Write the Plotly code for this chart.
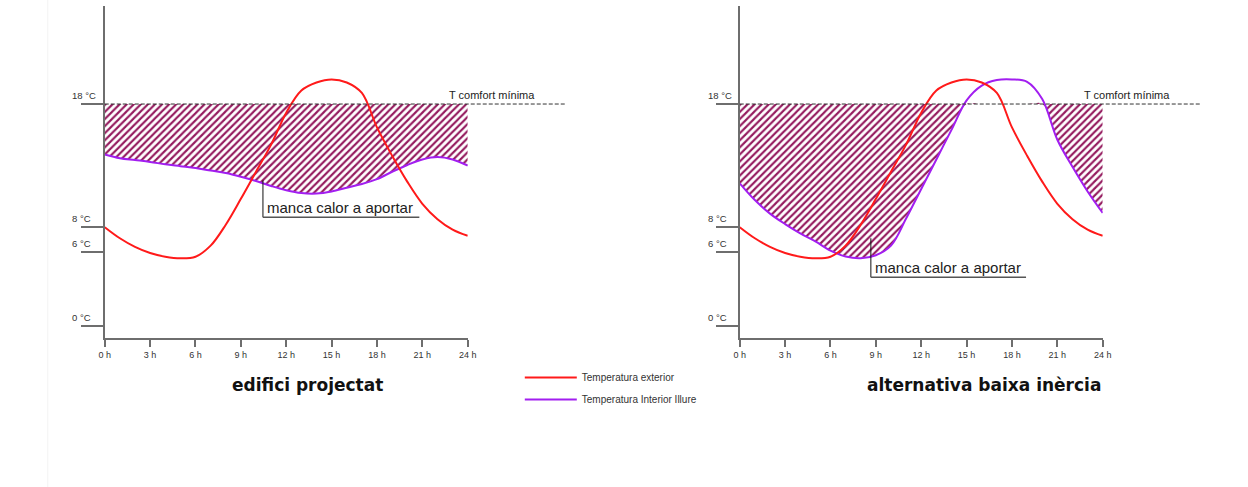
import plotly.graph_objects as go

# ---------------- data ----------------
hours = list(range(0, 25))
tick_hours = [0, 3, 6, 9, 12, 15, 18, 21, 24]
tick_hour_labels = [f"{h} h" for h in tick_hours]
temp_ticks = [0, 6, 8, 18]
temp_tick_labels = ["0 °C", "6 °C", "8 °C", "18 °C"]
t_comfort = 18

t_exterior = [8.0, 7.1, 6.4, 5.9, 5.6, 5.47, 5.6, 6.5, 8.2, 10.3, 12.5, 14.7, 17.3,
              19.1, 19.75, 20.0, 19.75, 18.9, 16.1, 13.8, 11.7, 9.9, 8.65, 7.8, 7.3]
t_interior_projectat = [13.9, 13.6, 13.45, 13.3, 13.1, 12.95, 12.8, 12.6, 12.4, 12.1,
                        11.75, 11.35, 11.0, 10.77, 10.73, 10.9, 11.2, 11.5, 11.9, 12.5,
                        13.05, 13.5, 13.7, 13.5, 13.0]
t_interior_baixa = [11.56, 10.2, 9.1, 8.25, 7.5, 6.85, 6.1, 5.62, 5.48, 5.72, 6.5, 8.7, 11.1,
                    13.5, 15.9, 18.3, 19.5, 19.95, 20.0, 19.8, 18.4, 15.1, 12.9, 10.9, 9.15]

panel_titles = ["edifici projectat", "alternativa baixa inèrcia"]
name_ext = "Temperatura exterior"
name_int = "Temperatura Interior Illure"
comfort_label = "T comfort mínima"
note_label = "manca calor a aportar"

# ---------------- style ----------------
W, H = 1248, 487
RED = "#ff1a1a"
PURPLE = "#a21ef0"
HATCH = "#941a5e"
AXIS = "#6e6e6e"
TXT = "#333333"
SANS = "Liberation Sans, Arial, sans-serif"


def fx(px):
    """target horizontal screen pixel -> layout pixel (compensates page scaling)"""
    return (px - 5.25) / 0.988


panels = [
    dict(xa="x", ya="y", left=104, right=467, interior=t_interior_projectat,
         title=panel_titles[0], title_x=307, note=(10.46, 11.8, 8.8, 20.8),
         comfort_x=446, dash_end=566, lab_x=69),
    dict(xa="x2", ya="y2", left=739, right=1102, interior=t_interior_baixa,
         title=panel_titles[1], title_x=983, note=(8.67, 7.1, 3.93, 18.93),
         comfort_x=1081, dash_end=1200, lab_x=705),
]
ydom = [(H - 338) / H, (H - 6) / H]
yrange = [-1, 25.96]

fig = go.Figure()
shapes, annotations = [], []

for i, p in enumerate(panels):
    xa, ya = p["xa"], p["ya"]
    L, R = fx(p["left"]), fx(p["right"])
    pw = R - L
    clipped = [min(v, t_comfort) for v in p["interior"]]
    fig.add_trace(go.Scatter(x=hours, y=[t_comfort] * len(hours), mode="lines",
                             line=dict(width=0), xaxis=xa, yaxis=ya,
                             showlegend=False, hoverinfo="skip"))
    fig.add_trace(go.Scatter(x=hours, y=clipped, mode="lines",
                             line=dict(width=0, shape="spline"), fill="tonexty",
                             fillcolor="white",
                             fillpattern=dict(shape="/", fgcolor=HATCH, bgcolor="white",
                                              size=5, solidity=0.42, fillmode="replace"),
                             xaxis=xa, yaxis=ya, showlegend=False, hoverinfo="skip"))
    fig.add_trace(go.Scatter(x=hours, y=p["interior"], mode="lines", name=name_int,
                             line=dict(color=PURPLE, width=2, shape="spline"),
                             legendgroup="int", legendrank=2, showlegend=(i == 0),
                             xaxis=xa, yaxis=ya))
    fig.add_trace(go.Scatter(x=hours, y=t_exterior, mode="lines", name=name_ext,
                             line=dict(color=RED, width=2, shape="spline"),
                             legendgroup="ext", legendrank=1, showlegend=(i == 0),
                             xaxis=xa, yaxis=ya))

    suffix = "" if i == 0 else "2"
    fig.layout["xaxis" + suffix] = dict(
        domain=[L / W, R / W], range=[0, 24], anchor=ya,
        tickvals=tick_hours, ticktext=tick_hour_labels, ticks="outside", ticklen=7,
        tickcolor=AXIS, tickwidth=1.5, showline=True, linecolor=AXIS, linewidth=2,
        showgrid=False, zeroline=False, tickfont=dict(family=SANS, size=9, color=TXT))
    fig.layout["yaxis" + suffix] = dict(
        domain=ydom, range=yrange, anchor=xa, tickvals=temp_ticks, ticks="outside",
        ticklen=22, tickcolor=AXIS, tickwidth=1.5, showline=True, linecolor=AXIS,
        linewidth=2, showgrid=False, zeroline=False, showticklabels=False)

    for v, lab in zip(temp_ticks, temp_tick_labels):
        annotations.append(dict(xref=f"{xa} domain", x=(fx(p["lab_x"]) - L) / pw, yref=ya, y=v,
                                xanchor="left", yanchor="bottom", yshift=1, showarrow=False,
                                text=lab, font=dict(family=SANS, size=9.5, color=TXT)))
    shapes.append(dict(type="line", xref=f"{xa} domain", x0=0,
                       x1=(fx(p["dash_end"]) - L) / pw,
                       yref=ya, y0=t_comfort, y1=t_comfort,
                       line=dict(color="#333333", width=1, dash="4px,2px")))
    annotations.append(dict(xref=f"{xa} domain", x=(fx(p["comfort_x"]) - L) / pw,
                            yref=ya, y=t_comfort, xanchor="left", yanchor="bottom", yshift=1,
                            showarrow=False, text=comfort_label,
                            font=dict(family=SANS, size=11, color="#222222")))
    nx, ny0, ny1, nx2 = p["note"]
    shapes.append(dict(type="line", xref=xa, yref=ya, x0=nx, x1=nx, y0=ny0, y1=ny1,
                       line=dict(color="#111111", width=1)))
    shapes.append(dict(type="line", xref=xa, yref=ya, x0=nx, x1=nx2, y0=ny1, y1=ny1,
                       line=dict(color="#555555", width=1.5)))
    annotations.append(dict(xref=xa, yref=ya, x=nx, y=ny1, xanchor="left", yanchor="bottom",
                            xshift=2, yshift=-1, showarrow=False, text=note_label,
                            font=dict(family=SANS, size=15, color="#222222")))
    annotations.append(dict(xref="paper", yref="paper", x=fx(p["title_x"]) / W, y=(H - 385) / H,
                            xanchor="center", yanchor="middle", showarrow=False,
                            text=f"<b>{p['title']}</b>",
                            font=dict(family="DejaVu Sans, Verdana, sans-serif", size=17,
                                      color="#111111")))

shapes.append(dict(type="line", xref="paper", yref="paper", x0=fx(47) / W, x1=fx(47) / W,
                   y0=0, y1=1, line=dict(color="#f3f3f3", width=1)))

fig.update_layout(
    width=W, height=H, margin=dict(l=0, r=0, t=0, b=0),
    paper_bgcolor="white", plot_bgcolor="white",
    shapes=shapes, annotations=annotations,
    legend=dict(x=(fx(524) - 5) / W, y=(H - 363) / H, xanchor="left", yanchor="top",
                traceorder="grouped", tracegroupgap=3,
                font=dict(family=SANS, size=10, color=TXT),
                itemwidth=52, bgcolor="rgba(0,0,0,0)"),
    showlegend=True,
)

fig.write_html("out.html", config={"displayModeBar": False},
               post_script="document.body.style.margin='0';document.body.style.overflow='hidden';")
